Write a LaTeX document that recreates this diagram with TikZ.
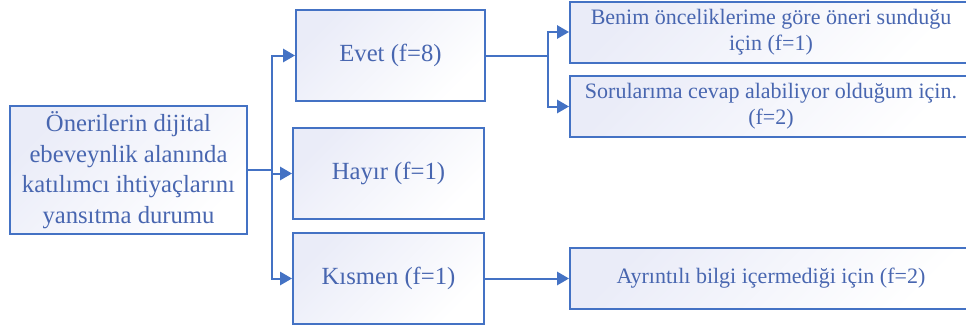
\documentclass[tikz,border=0pt]{standalone}
\usepackage{fontspec}
\setmainfont{Liberation Serif}
\usetikzlibrary{arrows.meta}
\definecolor{boxblue}{RGB}{68,114,196}
\definecolor{textblue}{RGB}{72,102,176}
\definecolor{fillblue}{RGB}{234,236,248}
\tikzset{
  box/.style={draw=boxblue, line width=1.5pt, top color=fillblue, bottom color=white,
    shading angle=45, text=textblue, align=center, inner sep=0pt},
  bigbox/.style={box, font=\fontsize{18.5}{23}\selectfont},
  smallbox/.style={box, font=\fontsize{16.5}{19.5}\selectfont, minimum width=402*0.75pt, minimum height=61*0.75pt},
  link/.style={draw=boxblue, line width=1.5pt},
  arr/.style={link, -{Triangle[length=9pt, width=10pt]}}
}
\begin{document}
\begin{tikzpicture}[x=0.75pt, y=-0.75pt]
\clip (0,0) rectangle (966,329);
\fill[white] (0,0) rectangle (966,329);

\node[bigbox, minimum width=237*0.75pt, minimum height=128*0.75pt] (main) at (128.5,170)
  {Önerilerin dijital\\ebeveynlik alanında\\katılımcı ihtiyaçlarını\\yansıtma durumu};
\node[bigbox, minimum width=189*0.75pt, minimum height=91*0.75pt] (evet) at (390.5,55.5) {Evet (f=8)};
\node[bigbox, minimum width=191*0.75pt, minimum height=91*0.75pt] (hayir) at (388.5,173.5) {Hayır (f=1)};
\node[bigbox, minimum width=191*0.75pt, minimum height=91*0.75pt] (kismen) at (388.5,278.5) {Kısmen (f=1)};
\node[smallbox] (benim) at (771,32) {Benim önceliklerime göre öneri sunduğu\\için (f=1)};
\node[smallbox] (sorular) at (771,106.5) {Sorularıma cevap alabiliyor olduğum için.\\(f=2)};
\node[smallbox] (ayrinti) at (771,278.5) {Ayrıntılı bilgi içermediği için (f=2)};

\coordinate (t1) at (272,170);
\coordinate (t2) at (548,55.5);

\draw[link] (main) to (t1);
\draw[arr] (t1) |- (evet);
\draw[arr] (t1) |- (hayir);
\draw[arr] (t1) |- (kismen);
\draw[link] (evet) to (t2);
\draw[arr] (t2) |- (benim);
\draw[arr] (t2) |- (sorular);
\draw[arr] (kismen) to (ayrinti);
\end{tikzpicture}
\end{document}
